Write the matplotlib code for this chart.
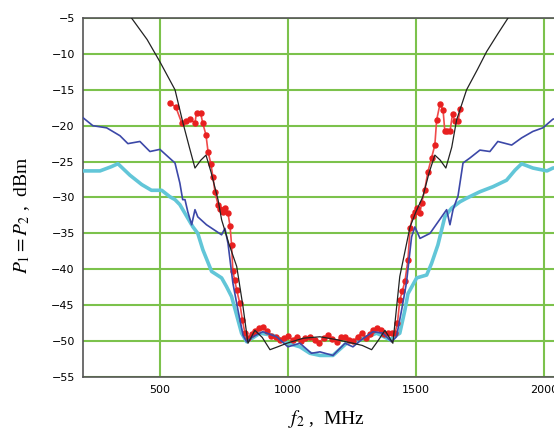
import matplotlib
matplotlib.use("Agg")
import matplotlib.pyplot as plt

plt.rcParams['mathtext.fontset'] = 'stix'

# black curve (theory)
f_black = [389, 450, 500, 559, 590, 615, 637, 660, 680, 700, 727, 741, 770, 800, 825, 844,
           871, 900, 930, 960, 996, 1060, 1125, 1190, 1254, 1290, 1327, 1355, 1379, 1410,
           1437, 1477, 1500, 1527, 1552, 1574, 1595, 1617, 1640, 1659, 1698, 1740, 1776, 1820, 1860]
p_black = [-5, -8.0, -11.1, -15, -19.6, -23.0, -25.9, -24.8, -24.1, -26.5, -30.3, -33.1, -36.5,
           -39.6, -45.3, -50.3, -48.5, -49.5, -51.2, -50.8, -50.3, -49.6, -49.4, -49.8, -50.3,
           -50.6, -51.2, -49.8, -48.5, -50.3, -41, -34.1, -32.0, -29.9, -26.5, -24.1, -24.8,
           -25.9, -23.0, -19.2, -15, -12.2, -9.7, -7.2, -5]

# red measured points
f_red = [539, 562, 585, 600, 617, 637, 643, 659, 667, 680, 688, 699, 707, 715, 727, 735, 746,
         756, 766, 774, 780, 785, 792, 800, 812, 822, 832, 844, 858, 872, 888, 902, 918, 935,
         952, 969, 985, 1002, 1018, 1034, 1050, 1068, 1086, 1104, 1122, 1140, 1156, 1172, 1190,
         1206, 1223, 1240, 1256, 1272, 1288, 1305, 1320, 1334, 1347, 1362, 1376, 1391, 1405,
         1418, 1428, 1437, 1447, 1457, 1469, 1477, 1487, 1496, 1506, 1516, 1522, 1534, 1547,
         1561, 1574, 1581, 1594, 1606, 1613, 1623, 1633, 1643, 1652, 1664, 1674]
p_red = [-16.8, -17.4, -19.6, -19.4, -19.1, -19.6, -18.2, -18.2, -19.6, -21.3, -23.6, -25.3,
         -27.1, -29.2, -31.0, -31.6, -32.0, -31.5, -32.2, -34.0, -36.6, -40.3, -41.5, -42.9,
         -44.7, -47.0, -48.9, -49.6, -49.0, -48.6, -48.2, -48.0, -48.6, -49.3, -49.5, -49.8,
         -49.6, -49.3, -49.9, -49.4, -50.0, -49.6, -49.4, -49.8, -50.2, -49.6, -49.2, -49.7,
         -50.1, -49.5, -49.4, -49.8, -50.0, -49.4, -48.9, -49.6, -49.0, -48.5, -48.2, -48.4,
         -49.0, -48.9, -48.9, -48.9, -47.5, -44.3, -43.0, -41.7, -38.7, -34.3, -32.6, -32.0,
         -31.5, -32.2, -30.8, -29.0, -26.4, -24.5, -22.7, -19.2, -17.0, -17.8, -20.8, -20.8,
         -20.8, -18.4, -19.4, -19.4, -17.7]

# dark blue curve
f_blue = [200, 238, 292, 344, 375, 422, 461, 500, 531, 559, 578, 589, 598, 609, 624, 637, 648,
          682, 741, 754, 766, 785, 805, 825, 839, 863, 902, 956, 1000, 1047, 1092, 1125, 1176,
          1223, 1254, 1288, 1332, 1371, 1405, 1424, 1444, 1463, 1483, 1496, 1516, 1555, 1620,
          1633, 1645, 1659, 1664, 1684, 1711, 1750, 1789, 1820, 1874, 1913, 1957, 1996, 2035, 2100]
p_blue = [-18.9, -20, -20.3, -21.4, -22.5, -22.2, -23.6, -23.3, -24.3, -25.2, -28, -30.3, -30.3,
          -32, -33.8, -31.7, -32.7, -33.8, -35.2, -34.3, -36.4, -41.9, -45.7, -49.2, -50.1,
          -49.4, -48.7, -49.4, -50.8, -50.3, -51.7, -51.5, -52, -50.3, -50.8, -49.8, -48.7,
          -48.9, -50.1, -49.4, -45.7, -41.9, -35.5, -34.1, -35.7, -35, -31.7, -33.8, -31.7,
          -30.3, -29.9, -25.2, -24.5, -23.4, -23.6, -22.2, -22.7, -21.7, -20.8, -20.3, -19.1, -18.5]

# light blue (cyan) curve
f_cyan = [200, 266, 311, 336, 383, 429, 467, 507, 539, 559, 578, 629, 648, 668, 702, 741, 760,
          780, 800, 819, 839, 891, 942, 1000, 1047, 1086, 1125, 1176, 1229, 1281, 1347, 1398,
          1437, 1457, 1469, 1503, 1542, 1561, 1586, 1613, 1639, 1672, 1698, 1750, 1801, 1854,
          1887, 1913, 1957, 2012, 2035, 2100]
p_cyan = [-26.3, -26.3, -25.7, -25.3, -26.9, -28.2, -29, -29, -29.9, -30.3, -31, -34.1, -35,
          -37.3, -40.3, -41.2, -42.4, -43.8, -46.4, -48.9, -50.1, -48.9, -49.2, -50.3, -50.8,
          -51.7, -52, -52, -50.3, -49.8, -48.9, -49.8, -48.9, -45.7, -43.4, -41.2, -40.8,
          -39.2, -36.6, -32.7, -31.5, -30.6, -30.1, -29.2, -28.5, -27.6, -26.2, -25.3, -25.9,
          -26.3, -25.9, -25.6]

fig = plt.figure(figsize=(5.54, 4.30), dpi=100)
ax = fig.add_axes([0.150, 0.1233, 0.878, 0.8349])

ax.plot(f_cyan, p_cyan, color='#62c6d8', lw=2.6, zorder=3)
ax.plot(f_red, p_red, color='#f04a4a', lw=1.2, marker='o', ms=3.6,
        markerfacecolor='#e82020', markeredgecolor='#e82020', zorder=4)
ax.plot(f_blue, p_blue, color='#3c48a8', lw=1.2, zorder=5)
ax.plot(f_black, p_black, color='#222222', lw=0.9, zorder=6)

ax.set_xlim(200, 2100)
ax.set_ylim(-55, -5)
ax.set_xticks([500, 1000, 1500, 2000])
ax.set_yticks(range(-55, -4, 5))
ax.grid(True, color='#7cc24c', lw=1.5, zorder=1)
ax.set_axisbelow(True)
ax.tick_params(length=0, labelsize=8, pad=6)

for s in ['left', 'top', 'bottom']:
    ax.spines[s].set_color('#555555')
    ax.spines[s].set_linewidth(1.2)
ax.spines['right'].set_visible(False)

fig.text(0.04, 0.50, r'$P_1 = P_2$ ,  dBm', rotation=90, ha='center', va='center',
         fontsize=14, family='Liberation Serif')
fig.text(0.59, 0.025, r'$f_2$ ,  MHz', ha='center', va='center',
         fontsize=14, family='Liberation Serif')

fig.savefig('out.png', dpi=100)
